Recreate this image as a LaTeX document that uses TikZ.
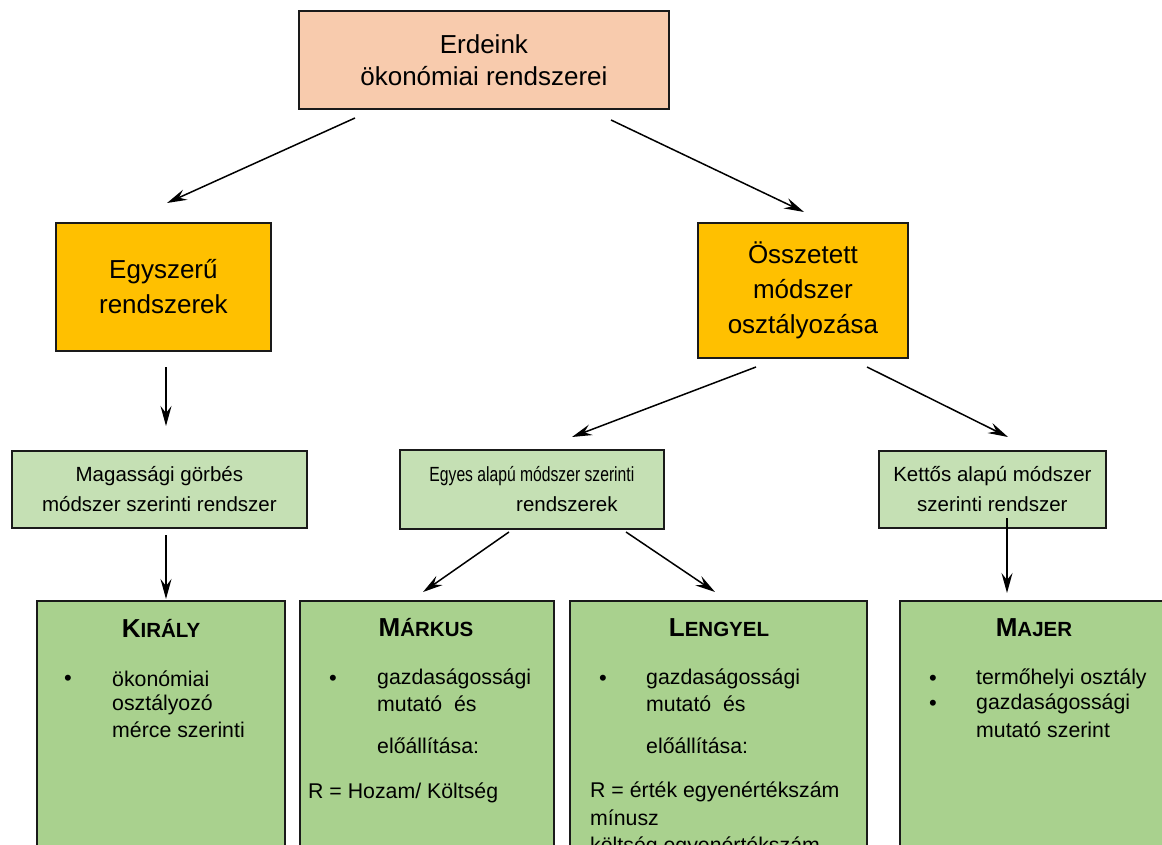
\documentclass[tikz,border=0pt]{standalone}
\usepackage{fontspec}
\setmainfont{Liberation Sans}
\usetikzlibrary{arrows.meta}
\definecolor{peach}{HTML}{F8CBAD}
\definecolor{amber}{HTML}{FFC000}
\definecolor{palegreen}{HTML}{C5E0B4}
\definecolor{leafgreen}{HTML}{A9D18E}
\definecolor{edge}{HTML}{1A1A1A}
\begin{document}
\begin{tikzpicture}[x=1pt,y=-1pt,
  box/.style={draw=edge, line width=1.8pt, rectangle, anchor=north west, inner sep=0pt, align=center},
  topbox/.style={box, fill=peach, font=\fontsize{26}{32}\selectfont},
  midbox/.style={box, fill=amber, font=\fontsize{26}{35}\selectfont},
  subbox/.style={box, fill=palegreen, font=\fontsize{20.5}{30}\selectfont},
  leafbox/.style={box, fill=leafgreen},
  title/.style={anchor=center, inner sep=0pt, font=\bfseries},
  item/.style={anchor=west, inner sep=0pt, font=\fontsize{21.3}{25}\selectfont},
  dot/.style={anchor=center, inner sep=0pt, font=\fontsize{22}{25}\selectfont},
  arr/.style={-{Stealth[length=20pt,width=11pt,inset=7pt]}, line width=1.5pt, black}]
\useasboundingbox (0,0) rectangle (1162,845);
\begin{scope}
\clip (0,0) rectangle (1162,845);

% top level
\node[topbox, minimum width=370pt, minimum height=98pt] (root) at (298,10) {Erdeink\\ökonómiai rendszerei};

% second level
\node[midbox, minimum width=215pt, minimum height=128pt] (simple) at (55,222) {Egyszerű\\rendszerek};
\node[midbox, minimum width=210pt, minimum height=135pt] (complex) at (697,222) {Összetett\\módszer\\osztályozása};

% third level
\node[subbox, minimum width=295pt, minimum height=77pt] (height) at (11,450) {Magassági görbés\\módszer szerinti rendszer};
\node[subbox, minimum width=264pt, minimum height=79pt] (single) at (399,449) {\scalebox{0.765}[1]{Egyes alapú módszer szerinti}\\\hspace*{70pt}rendszerek};
\node[subbox, minimum width=227pt, minimum height=77pt] (double) at (878,450) {Kettős alapú módszer\\szerinti rendszer};

% leaf boxes
\node[leafbox, minimum width=248pt, minimum height=280pt] (kiraly) at (36,600) {};
\node[leafbox, minimum width=254pt, minimum height=280pt] (markus) at (299,600) {};
\node[leafbox, minimum width=297pt, minimum height=280pt] (lengyel) at (569,600) {};
\node[leafbox, minimum width=290pt, minimum height=280pt] (majer) at (899,600) {};

% leaf titles (small caps look)
\node[title] (tkiraly) at (161,628) {\fontsize{26}{28}\selectfont K\fontsize{20.5}{28}\selectfont IRÁLY};
\node[title] (tmarkus) at (426,628) {\fontsize{26}{28}\selectfont M\fontsize{20.5}{28}\selectfont ÁRKUS};
\node[title] (tlengyel) at (719,628) {\fontsize{26}{28}\selectfont L\fontsize{20.5}{28}\selectfont ENGYEL};
\node[title] (tmajer) at (1034,628) {\fontsize{26}{28}\selectfont M\fontsize{20.5}{28}\selectfont AJER};

% KIRÁLY
\node[dot] (k0) at (68,680) {•};
\node[item] (k1) at (112,679) {ökonómiai};
\node[item] (k2) at (112,705) {osztályozó};
\node[item] (k3) at (112,730) {mérce szerinti};

% MÁRKUS
\node[dot] (m0) at (333,680) {•};
\node[item] (m1) at (377,679) {gazdaságossági};
\node[item] (m2) at (377,704) {mutató\ \ és};
\node[item] (m3) at (377,746) {előállítása:};
\node[item] (m4) at (308,793) {R = Hozam/ Költség};

% LENGYEL
\node[dot] (l0) at (603,680) {•};
\node[item] (l1) at (646,679) {gazdaságossági};
\node[item] (l2) at (646,704) {mutató\ \ és};
\node[item] (l3) at (646,746) {előállítása:};
\node[item] (l4) at (590,792) {R = érték egyenértékszám};
\node[item] (l5) at (590,818) {mínusz};
\node[item] (l6) at (590,847) {költség egyenértékszám};

% MAJER
\node[dot] (j0) at (933,680) {•};
\node[item] (j1) at (976,679) {termőhelyi osztály};
\node[dot] (j2) at (933,705) {•};
\node[item] (j3) at (976,704) {gazdaságossági};
\node[item] (j4) at (976,730) {mutató szerint};

% connector end points
\coordinate (a1s) at (355,118);  \coordinate (a1e) at (167,203);
\coordinate (a2s) at (611,120);  \coordinate (a2e) at (804,212);
\coordinate (a3s) at (166,367);  \coordinate (a3e) at (166,426);
\coordinate (a4s) at (756,367);  \coordinate (a4e) at (572,437);
\coordinate (a5s) at (867,367);  \coordinate (a5e) at (1008,437);
\coordinate (a6s) at (166,535);  \coordinate (a6e) at (166,599);
\coordinate (a7s) at (509,532);  \coordinate (a7e) at (423,592);
\coordinate (a8s) at (626,532);  \coordinate (a8e) at (715,592);
\coordinate (a9s) at (1007,518); \coordinate (a9e) at (1007,593);

\draw[arr] (a1s) -- (a1e);
\draw[arr] (a2s) -- (a2e);
\draw[arr] (a3s) -- (a3e);
\draw[arr] (a4s) -- (a4e);
\draw[arr] (a5s) -- (a5e);
\draw[arr] (a6s) -- (a6e);
\draw[arr] (a7s) -- (a7e);
\draw[arr] (a8s) -- (a8e);
\draw[arr] (a9s) -- (a9e);
\end{scope}
\end{tikzpicture}
\end{document}
